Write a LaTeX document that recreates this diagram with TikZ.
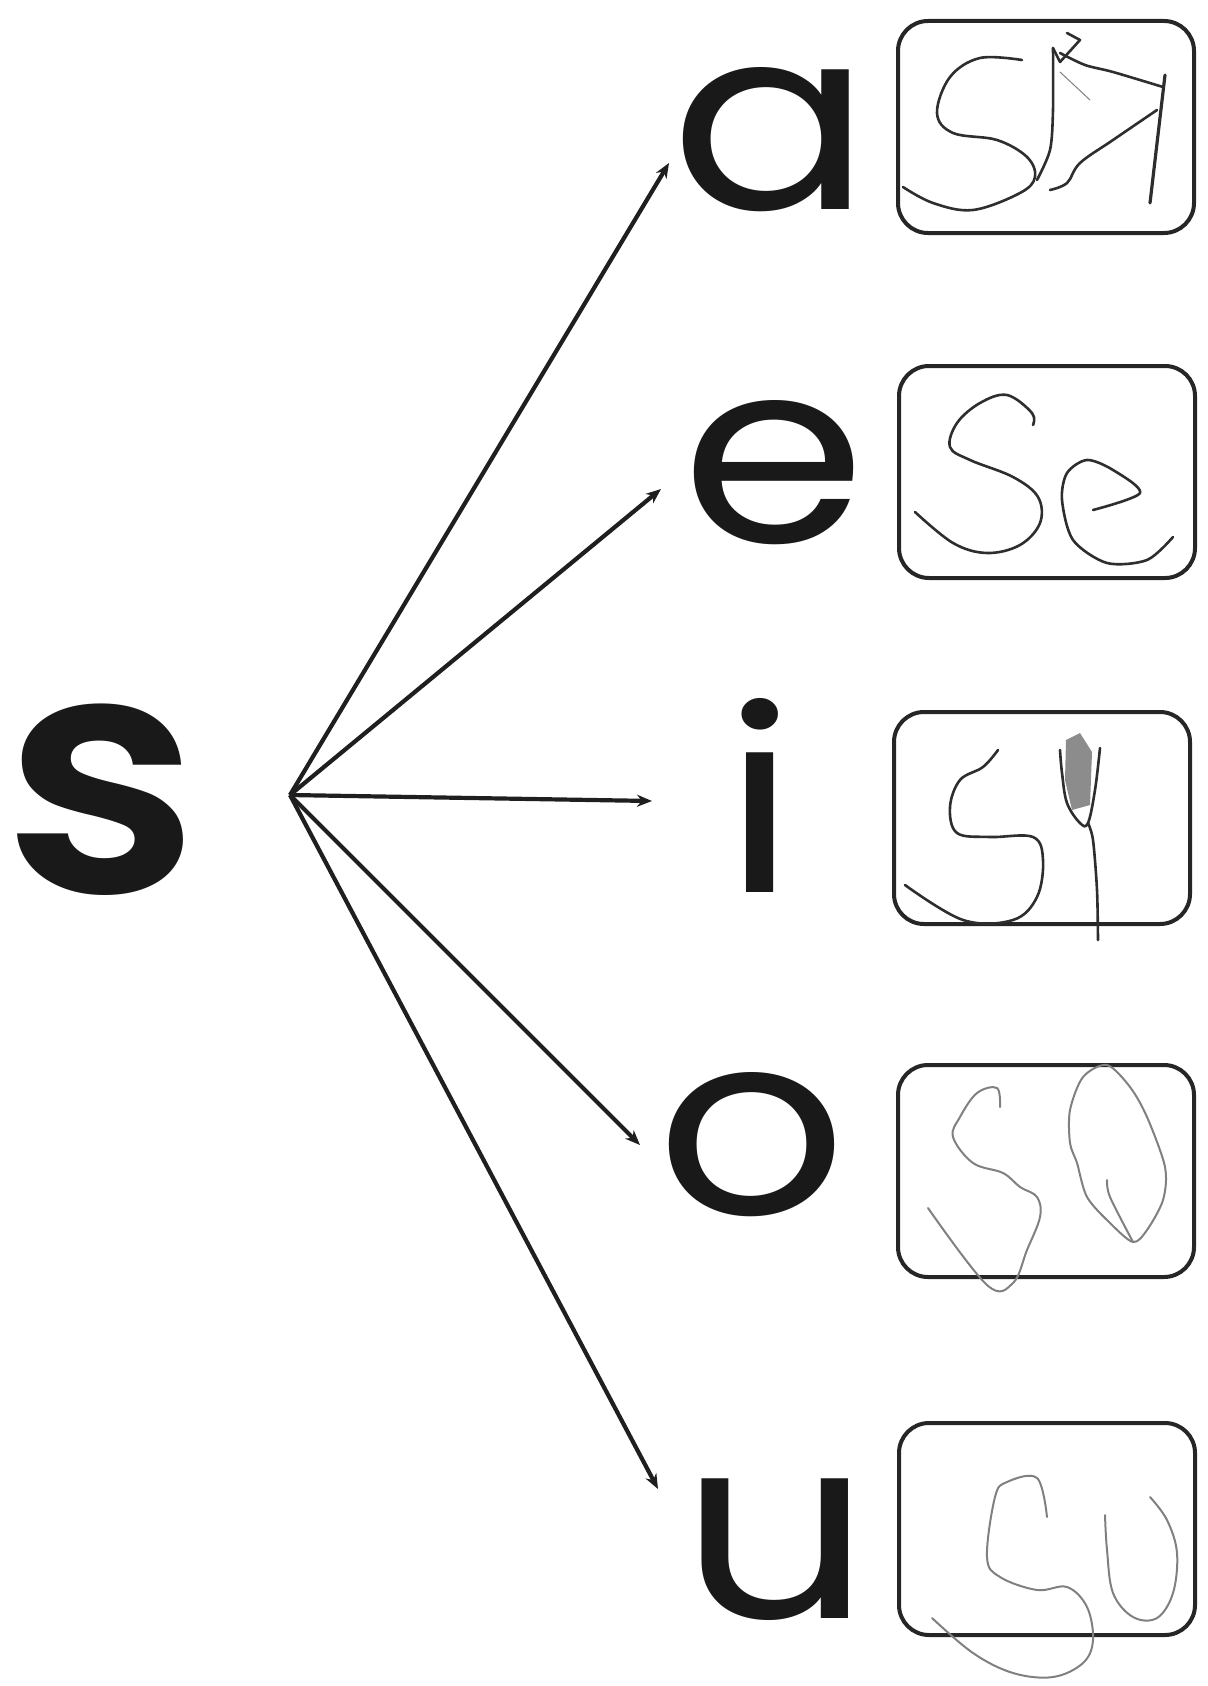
\documentclass[tikz,border=0pt]{standalone}
\usepackage{fontspec}
\setmainfont{Poppins}
\newfontfamily\semibold{Poppins SemiBold}
\usetikzlibrary{arrows.meta}

\begin{document}
\begin{tikzpicture}[
    x=1pt, y=-1pt,
    letter/.style={
        inner sep=0pt,
        xscale=1.17,
        font=\fontsize{255}{255}\selectfont,
        text=black!90
    },
    answer/.style={
        draw=black!85,
        line width=4pt,
        rounded corners=30pt,
        minimum width=296pt,
        minimum height=212pt,
        inner sep=0pt
    },
    arrow/.style={
        -{Stealth[length=15pt, width=12pt]},
        line width=4.2pt,
        draw=black!88
    },
    pen/.style={
        line width=2.6pt,
        draw=black!82,
        line cap=round,
        line join=round
    },
    pencil/.style={
        pen,
        line width=2pt,
        draw=black!50
    }
]
\useasboundingbox (0,0) rectangle (1207,1686);

% Letters
\node (s) [letter, xscale=0.92, font=\fontsize{335}{335}\semibold] at (102,800) {s};
\node (a) [letter] at (771,140) {a};
\node (e) [letter] at (774,473) {e};
\node (i) [letter] at (760,795) {i};
\node (o) [letter] at (752,1145) {o};
\node (u) [letter] at (776,1550) {u};

% Answer boxes
\node (boxa) [answer] at (1046,127) {};
\node (boxe) [answer] at (1047,472) {};
\node (boxi) [answer] at (1042,818) {};
\node (boxo) [answer] at (1046,1171) {};
\node (boxu) [answer] at (1047,1529) {};

% Arrows
\coordinate (hub) at (290,795);
\coordinate (ta) at (669,163);
\coordinate (te) at (661,489);
\coordinate (ti) at (652,801);
\coordinate (to) at (640,1145);
\coordinate (tu) at (658,1489);
\foreach \t in {ta,te,ti,to,tu}
    \draw [arrow] (hub) -- (\t);

% Handwriting: sa
\draw [pen] plot [smooth, tension=0.6] coordinates {(1022,60) (980,58) (950,77) (937,113) (953,133) (997,140) (1027,157) (1035,177) (1020,193) (973,210) (933,203) (903,187)};
\draw [pen] plot [smooth, tension=0.5] coordinates {(1037,180) (1050,150) (1053,110) (1053,48)};
\draw [pen] (1053,48) -- (1060,62) -- (1080,40) -- (1067,33);
\draw [pen] plot [smooth, tension=0.5] coordinates {(1060,53) (1085,65) (1113,72) (1163,87)};
\draw [pencil, line width=1pt] (1060,72) -- (1090,100);
\draw [pen] plot [smooth, tension=0.6] coordinates {(1157,110) (1113,140) (1080,163) (1067,183) (1050,190)};
\draw [pen, line width=3.2pt] (1165,75) -- (1150,203);

% Handwriting: se
\draw [pen] plot [smooth, tension=0.6] coordinates {(1033,425) (1032,413) (1007,395) (980,403) (957,423) (950,447) (970,460) (1013,477) (1038,497) (1040,523) (1020,545) (987,553) (953,543) (915,512)};
\draw [pen] plot [smooth, tension=0.5] coordinates {(1093,510) (1140,493) (1113,470) (1087,460) (1067,473) (1062,500) (1073,540) (1107,563) (1147,560) (1173,537)};

% Handwriting: si
\draw [pen] plot [smooth, tension=0.6] coordinates {(998,750) (983,767) (960,780) (950,807) (957,833) (990,837) (1033,837) (1043,860) (1037,897) (1013,920) (963,920) (905,885)};
\draw [pen] plot [smooth, tension=0.5] coordinates {(1098,940) (1097,890) (1093,840) (1088,823)};
\draw [pen] plot [smooth, tension=0.6] coordinates {(1060,750) (1062,773) (1067,803) (1080,823) (1088,823) (1095,790) (1100,748)};
\fill [black!45] (1066,740) -- (1080,733) -- (1092,752) -- (1090,805) -- (1072,810) -- (1065,780) -- cycle;

% Handwriting: so
\draw [pencil] plot [smooth, tension=0.6] coordinates {(1000,1107) (997,1088) (977,1093) (960,1117) (953,1137) (973,1163) (1003,1173) (1020,1187) (1037,1197) (1040,1217) (1027,1250) (1013,1283) (987,1285) (928,1208)};
\draw [pencil] plot [smooth, tension=0.5] coordinates {(1107,1180) (1110,1197) (1133,1242)};
\draw [pencil] plot [smooth cycle, tension=0.5] coordinates {(1133,1242) (1110,1223) (1087,1197) (1077,1163) (1070,1143) (1070,1110) (1083,1077) (1107,1065) (1130,1087) (1147,1117) (1165,1167) (1163,1200) (1147,1230)};

% Handwriting: su
\draw [pencil] plot [smooth, tension=0.6] coordinates {(1047,1517) (1037,1478) (1007,1482) (995,1497) (987,1557) (1000,1577) (1037,1590) (1067,1587) (1087,1607) (1093,1640) (1083,1663) (1053,1677) (1013,1673) (973,1653) (932,1618)};
\draw [pencil] plot [smooth, tension=0.6] coordinates {(1105,1515) (1107,1550) (1113,1593) (1133,1617) (1157,1618) (1173,1593) (1177,1553) (1167,1520) (1150,1497)};

\end{tikzpicture}
\end{document}
